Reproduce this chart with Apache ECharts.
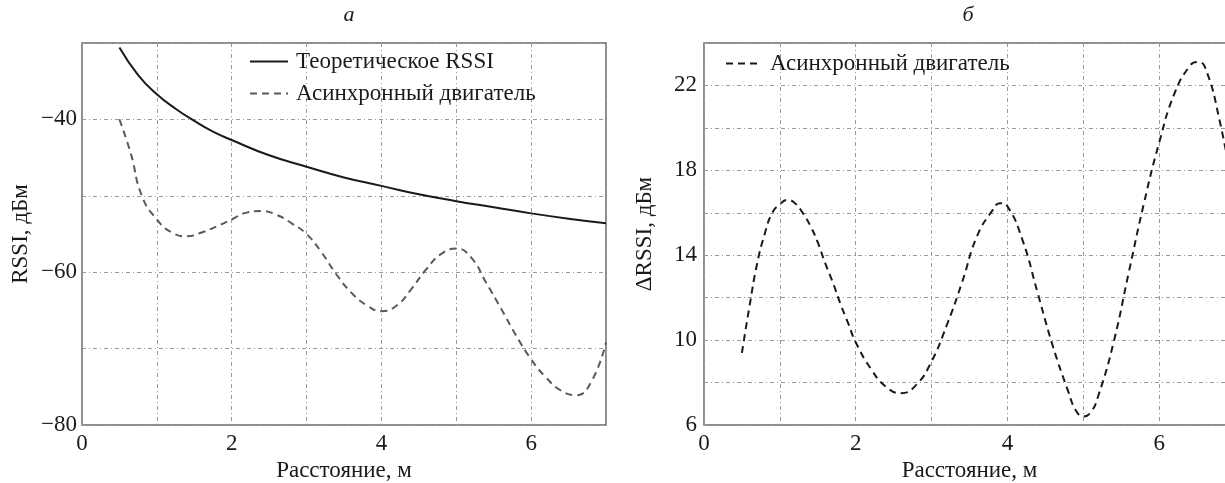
<!DOCTYPE html>
<html>
<head>
<meta charset="utf-8">
<script src="https://cdn.jsdelivr.net/npm/echarts@6/dist/echarts.min.js"></script>
<style>
  html, body { margin: 0; padding: 0; background: #fff; }
  #chart { width: 1225px; height: 483px; }
</style>
</head>
<body>
<div id="chart"></div>
<script>
  // левый график (а): теоретическое RSSI
  var theoryX = [0.5, 0.75, 1, 1.25, 1.5, 1.75, 2, 2.5, 3, 3.5, 4, 4.5, 5, 5.5, 6, 6.5, 7];
  var theoryY = [-30.6, -34.2, -36.7, -38.6, -40.2, -41.6, -42.7, -44.7, -46.2, -47.6, -48.7, -49.8, -50.7, -51.5, -52.3, -53.0, -53.6];

  // левый график (а): асинхронный двигатель
  var motorX = [0.5, 0.65, 0.8, 1.0, 1.2, 1.4, 1.6, 1.8, 2.0, 2.2, 2.4, 2.6, 2.8, 3.0, 3.2, 3.4, 3.6, 3.8, 4.0,
                4.2, 4.4, 4.6, 4.8, 5.0, 5.2, 5.4, 5.6, 5.8, 6.0, 6.2, 6.4, 6.6, 6.8, 7.0];
  var motorY = [-40, -44.4, -50, -53.1, -54.8, -55.3, -54.8, -54.0, -53.1, -52.2, -52.0, -52.5, -53.6, -55.0, -57.4, -60.3, -62.7, -64.3, -65.1,
                -64.4, -62.2, -59.6, -57.6, -56.9, -58.1, -61.4, -64.8, -68.3, -71.4, -73.8, -75.5, -76.1, -74.4, -69.2];

  // правый график (б): ΔRSSI
  var deltaX = [0.5, 0.6, 0.7, 0.8, 0.9, 1.0, 1.1, 1.2, 1.3, 1.4, 1.5, 1.6, 1.7, 1.8, 1.9, 2.0, 2.2, 2.4, 2.6, 2.8,
                3.0, 3.2, 3.4, 3.6, 3.8, 3.9, 4.0, 4.2, 4.4, 4.6, 4.8, 4.9, 5.0, 5.1, 5.2, 5.4, 5.6, 5.8,
                6.0, 6.2, 6.4, 6.5, 6.6, 6.8, 7.0];
  var deltaY = [9.4, 11.6, 13.6, 15.0, 16.0, 16.4, 16.6, 16.45, 16.0, 15.4, 14.6, 13.6, 12.7, 11.7, 10.8, 9.9, 8.65, 7.8, 7.5, 7.9,
                9.0, 10.7, 12.7, 14.9, 16.1, 16.45, 16.3, 14.7, 12.2, 9.7, 7.6, 6.7, 6.4, 6.6, 7.4, 9.9, 13.2, 16.45,
                19.3, 21.6, 22.9, 23.1, 22.9, 20.3, 16.5];

  var xLabels = [0, 2, 4, 6];
  var leftYLabels = [-80, -60, -40];
  var rightYLabels = [6, 10, 14, 18, 22];

  function pairs(xs, ys) {
    return xs.map(function (x, i) { return [x, ys[i]]; });
  }

  var font = 'Liberation Serif';
  var fs = 23;
  var textColor = '#1a1a1a';
  var gridLine = { show: true, lineStyle: { color: '#9a9a9a', width: 1, type: [4, 3, 1, 3] } };

  function xAxisOf(idx) {
    return {
      type: 'value', gridIndex: idx, min: 0, max: 7, interval: 1,
      name: 'Расстояние, м', nameLocation: 'middle', nameGap: 30,
      nameTextStyle: { fontFamily: font, fontSize: fs, color: textColor },
      axisLine: { show: false }, axisTick: { show: false },
      axisLabel: {
        fontFamily: font, fontSize: fs, color: textColor, margin: 7,
        formatter: function (v) { return xLabels.indexOf(v) >= 0 ? String(v) : ''; }
      },
      splitLine: gridLine
    };
  }

  var option = {
    animation: false,
    backgroundColor: '#fff',
    title: [
      { text: 'а', left: 344, top: -1, textAlign: 'center',
        textStyle: { fontFamily: font, fontSize: 22, fontStyle: 'italic', fontWeight: 'normal', color: textColor } },
      { text: 'б', left: 963, top: -1, textAlign: 'center',
        textStyle: { fontFamily: font, fontSize: 22, fontStyle: 'italic', fontWeight: 'normal', color: textColor } }
    ],
    legend: [
      {
        left: 244, top: 45, orient: 'vertical', itemWidth: 38, itemHeight: 14, itemGap: 9,
        data: ['Теоретическое RSSI', 'Асинхронный двигатель'],
        itemStyle: { opacity: 0 },
        textStyle: { fontFamily: font, fontSize: fs, color: textColor, padding: [0, 0, 0, 3] }
      },
      {
        left: 720, top: 47, orient: 'vertical', itemWidth: 32, itemHeight: 14,
        data: [{ name: 'Асинхронный двигатель ' }],
        itemStyle: { opacity: 0 },
        textStyle: { fontFamily: font, fontSize: fs, color: textColor, padding: [0, 0, 0, 7] }
      }
    ],
    grid: [
      { left: 82, top: 43, width: 524, height: 382, outerBoundsMode: 'none',
        show: true, borderColor: '#6a6a6a', borderWidth: 1.5, backgroundColor: 'transparent' },
      { left: 704, top: 43, width: 531, height: 382, outerBoundsMode: 'none',
        show: true, borderColor: '#6a6a6a', borderWidth: 1.5, backgroundColor: 'transparent' }
    ],
    xAxis: [xAxisOf(0), xAxisOf(1)],
    yAxis: [
      {
        type: 'value', gridIndex: 0, min: -80, max: -30, interval: 10,
        name: 'RSSI, дБм', nameLocation: 'middle', nameGap: 50,
        nameTextStyle: { fontFamily: font, fontSize: fs, color: textColor },
        axisLine: { show: false }, axisTick: { show: false },
        axisLabel: {
          fontFamily: font, fontSize: fs, color: textColor, margin: 5,
          formatter: function (v) { return leftYLabels.indexOf(v) >= 0 ? '−' + Math.abs(v) : ''; }
        },
        splitLine: gridLine
      },
      {
        type: 'value', gridIndex: 1, min: 6, max: 24, interval: 2,
        name: 'ΔRSSI, дБм', nameLocation: 'middle', nameGap: 48,
        nameTextStyle: { fontFamily: font, fontSize: fs, color: textColor },
        axisLine: { show: false }, axisTick: { show: false },
        axisLabel: {
          fontFamily: font, fontSize: fs, color: textColor, margin: 7,
          formatter: function (v) { return rightYLabels.indexOf(v) >= 0 ? String(v) : ''; }
        },
        splitLine: gridLine
      }
    ],
    series: [
      {
        name: 'Теоретическое RSSI', type: 'line', xAxisIndex: 0, yAxisIndex: 0,
        data: pairs(theoryX, theoryY), smooth: true, symbol: 'none',
        lineStyle: { color: '#1a1a1a', width: 2 }, itemStyle: { color: '#1a1a1a' }
      },
      {
        name: 'Асинхронный двигатель', type: 'line', xAxisIndex: 0, yAxisIndex: 0,
        data: pairs(motorX, motorY), smooth: true, symbol: 'none',
        lineStyle: { color: '#5a5a5a', width: 2, type: [7, 5] }, itemStyle: { color: '#5a5a5a' }
      },
      {
        name: 'Асинхронный двигатель ', type: 'line', xAxisIndex: 1, yAxisIndex: 1,
        data: pairs(deltaX, deltaY), smooth: true, symbol: 'none',
        lineStyle: { color: '#1a1a1a', width: 2, type: [7, 5] }, itemStyle: { color: '#1a1a1a' }
      }
    ]
  };

  var myChart = echarts.init(document.getElementById('chart'));
  myChart.setOption(option);
</script>
</body>
</html>
